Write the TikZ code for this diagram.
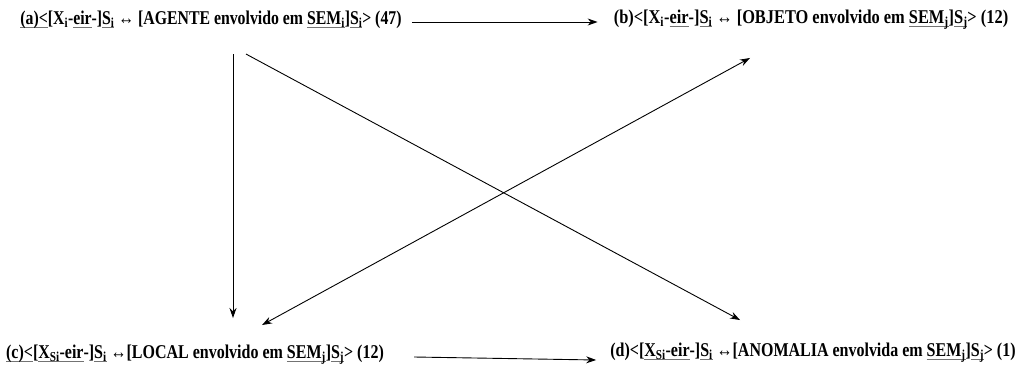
\documentclass[tikz,border=0pt]{standalone}
\usepackage{fontspec}
\setmainfont{Liberation Serif}
\usetikzlibrary{calc,arrows.meta}
\newcommand{\ul}[1]{\leavevmode\setbox0\hbox{#1}\rlap{\color{black!55}\rule[-3pt]{\wd0}{0.8pt}}\box0\relax}
\begin{document}
\begin{tikzpicture}[x=1pt,y=-1pt,
  lbl/.style={inner sep=0pt,font=\bfseries\fontsize{19.5}{22}\selectfont},
  arr/.style={-{Stealth[length=10pt,width=7pt]},line width=0.9pt}]
\useasboundingbox (0,0) rectangle (1016,369);
\node[lbl] (a) at (211,20) {\scalebox{0.81}[1]{\ul{(a)<}[X\textsubscript{i}-\ul{eir}-]\ul{S\textsubscript{i}} ↔ [AGENTE envolvido em \ul{SEM\textsubscript{i}}]\ul{S\textsubscript{i}}> (47)}};
\node[lbl] (b) at (811,20) {\scalebox{0.84}[1]{(b)<[X\textsubscript{i}-\ul{eir}-]\ul{S\textsubscript{i}} ↔ [OBJETO envolvido em \ul{SEM\textsubscript{j}}]\ul{S\textsubscript{j}}> (12)}};
\node[lbl] (c) at (195,355) {\scalebox{0.82}[1]{\ul{(c)<}[\ul{X\textsubscript{Si}-eir}-]\ul{S\textsubscript{i}} ↔[LOCAL envolvido em \ul{SEM\textsubscript{j}}]\ul{S\textsubscript{j}}> (12)}};
\node[lbl] (d) at (813,353) {\scalebox{0.82}[1]{(d)<[\ul{X\textsubscript{Si}-eir}-]\ul{S\textsubscript{i}} ↔[ANOMALIA envolvida em \ul{SEM\textsubscript{j}}]\ul{S\textsubscript{j}}> (1)}};
\draw[arr] ($(a.east)+(10,2)$) -- ($(b.west)+(-16,2)$);
\draw[arr] ($(c.east)+(30,2)$) -- ($(d.west)+(-14,7)$);
\draw[arr] ($(a.south)+(22,25)$) -- ($(c.north)+(38,-27)$);
\draw[arr] ($(a.south)+(35,25)$) -- ($(d.north)+(-73,-23)$);
\draw[arr,{Stealth[length=10pt,width=7pt]}-{Stealth[length=10pt,width=7pt]}] ($(c.north)+(67,-20)$) -- ($(b.south)+(-61,28)$);
\end{tikzpicture}
\end{document}
